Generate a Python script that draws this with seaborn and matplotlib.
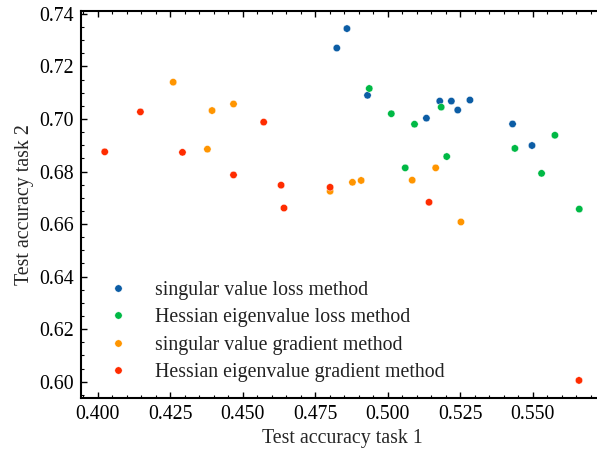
import matplotlib
matplotlib.use("Agg")
import matplotlib.pyplot as plt
from matplotlib.ticker import MultipleLocator, FormatStrFormatter
import seaborn as sns
import pandas as pd

methods = [
    "singular value loss method",
    "Hessian eigenvalue loss method",
    "singular value gradient method",
    "Hessian eigenvalue gradient method",
]
colors = ["#0C5DA5", "#00B945", "#FF9500", "#FF2C00"]

sv_loss_t1 = [0.4824, 0.4859, 0.4930, 0.5133, 0.5179, 0.5219, 0.5241, 0.5283, 0.5430, 0.5497]
sv_loss_t2 = [0.7270, 0.7344, 0.7090, 0.7003, 0.7068, 0.7068, 0.7034, 0.7072, 0.6981, 0.6899]

he_loss_t1 = [0.4936, 0.5012, 0.5092, 0.5184, 0.5576, 0.5438, 0.5530, 0.5660, 0.5203, 0.5060]
he_loss_t2 = [0.7116, 0.7020, 0.6980, 0.7045, 0.6938, 0.6888, 0.6793, 0.6657, 0.6857, 0.6814]

sv_grad_t1 = [0.4260, 0.4394, 0.4468, 0.4378, 0.4801, 0.4878, 0.4908, 0.5084, 0.5165, 0.5252]
sv_grad_t2 = [0.7140, 0.7032, 0.7057, 0.6885, 0.6725, 0.6759, 0.6766, 0.6767, 0.6814, 0.6608]

he_grad_t1 = [0.4147, 0.4572, 0.4024, 0.4292, 0.4468, 0.4632, 0.4642, 0.4801, 0.5142, 0.5659]
he_grad_t2 = [0.7027, 0.6988, 0.6875, 0.6873, 0.6787, 0.6748, 0.6661, 0.6740, 0.6683, 0.6005]

frames = []
for name, t1, t2 in zip(
    methods,
    [sv_loss_t1, he_loss_t1, sv_grad_t1, he_grad_t1],
    [sv_loss_t2, he_loss_t2, sv_grad_t2, he_grad_t2],
):
    frames.append(pd.DataFrame({"task1": t1, "task2": t2, "method": name}))
df = pd.concat(frames, ignore_index=True)

FS = 14.3
sns.set_theme(style="ticks")
plt.rcParams["font.family"] = ["Liberation Serif", "DejaVu Serif"]
plt.rcParams["font.size"] = FS

W, H = 597, 454
fig = plt.figure(figsize=(W / 100, H / 100), dpi=100)
ax = fig.add_axes([81 / W, 1 - 398 / H, (603 - 81) / W, (398 - 11) / H])

sns.scatterplot(
    data=df, x="task1", y="task2", hue="method", hue_order=methods,
    palette=colors, s=28, linewidth=0.3, edgecolor="white", ax=ax,
)

ax.set_xlabel("Test accuracy task 1", fontsize=FS)
ax.set_ylabel("Test accuracy task 2", fontsize=FS)
ax.xaxis.set_major_locator(MultipleLocator(0.025))
ax.xaxis.set_minor_locator(MultipleLocator(0.005))
ax.yaxis.set_major_locator(MultipleLocator(0.02))
ax.yaxis.set_minor_locator(MultipleLocator(0.005))
ax.xaxis.set_major_formatter(FormatStrFormatter("%.3f"))
ax.yaxis.set_major_formatter(FormatStrFormatter("%.2f"))
ax.margins(0.05)

for side in ["top", "right", "left", "bottom"]:
    ax.spines[side].set_visible(True)
    ax.spines[side].set_linewidth(1.5)
    ax.spines[side].set_color("black")
ax.tick_params(which="both", direction="in", top=True, right=True,
               labelsize=FS, colors="black", pad=5)
ax.tick_params(which="major", length=4.5, width=1.0)
ax.tick_params(which="minor", length=2.3, width=0.8)

leg = ax.legend(loc="lower left", frameon=False, fontsize=FS,
                handletextpad=0.86, labelspacing=0.43, markerscale=1.0,
                borderaxespad=0.0, bbox_to_anchor=(0.017, 0.020))
for t in leg.get_texts():
    t.set_color("#222222")

fig.savefig("out.png", dpi=100)
